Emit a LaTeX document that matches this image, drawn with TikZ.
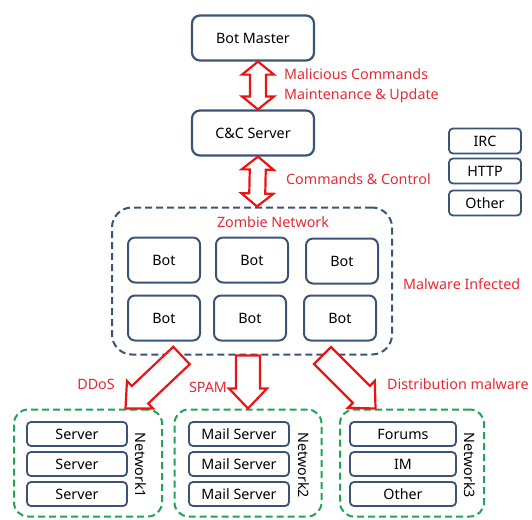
\documentclass[tikz,border=0pt]{standalone}
\usepackage{fontspec}
\setmainfont{Noto Sans}
\usepackage{tikz}
\usetikzlibrary{calc,positioning}
\definecolor{boxblue}{RGB}{58,84,120}
\definecolor{netgreen}{RGB}{30,165,85}
\definecolor{txtred}{RGB}{232,40,50}
\definecolor{arrred}{RGB}{235,20,20}
\newcommand{\fattwo}[2]{%
  \coordinate (ta) at ($(#1)!13pt!(#2)$);
  \coordinate (tb) at ($(#2)!13pt!(#1)$);
  \draw[fat] (#1) -- ($(ta)!16pt!90:(#2)$) -- ($(ta)!8pt!90:(#2)$) -- ($(tb)!8pt!90:(#2)$)
    -- ($(tb)!16pt!90:(#2)$) -- (#2) -- ($(tb)!16pt!-90:(#2)$) -- ($(tb)!8pt!-90:(#2)$)
    -- ($(ta)!8pt!-90:(#2)$) -- ($(ta)!16pt!-90:(#2)$) -- cycle;}
\newcommand{\fatone}[2]{%
  \coordinate (tb) at ($(#2)!20pt!(#1)$);
  \draw[fat] ($(#1)!12pt!90:(#2)$) -- ($(tb)!12pt!90:(#2)$) -- ($(tb)!19pt!90:(#2)$) -- (#2)
    -- ($(tb)!19pt!-90:(#2)$) -- ($(tb)!12pt!-90:(#2)$) -- ($(#1)!12pt!-90:(#2)$) -- cycle;}

\begin{document}
\begin{tikzpicture}[x=1pt,y=-1pt,
    every node/.style={font=\fontsize{14.3}{16}\selectfont},
    topbox/.style={draw=boxblue,line width=2.2pt,rounded corners=8pt,minimum width=122pt,minimum height=45pt,inner sep=0pt},
    botbox/.style={draw=boxblue,line width=2pt,rounded corners=7pt,minimum width=72pt,minimum height=45pt,inner sep=0pt},
    smallbox/.style={draw=boxblue,line width=1.8pt,rounded corners=4pt,minimum width=72pt,minimum height=25pt,inner sep=0pt},
    netitem/.style={draw=boxblue,line width=1.8pt,rounded corners=4pt,minimum width=100pt,minimum height=24pt,inner sep=0pt},
    netbox/.style={draw=netgreen,line width=2pt,dash pattern=on 7pt off 4pt,rounded corners=14pt,minimum width=148pt,minimum height=107pt},
    lbl/.style={text=txtred,inner sep=0pt},
    fat/.style={draw=arrred,line width=2.2pt,fill=white,line join=miter}]

    \useasboundingbox (0,0) rectangle (532,519);

    \node[topbox] (master) at (253,38) {Bot Master};
    \node[topbox] (cc) at (253,133) {C\&C Server};

    \node[smallbox] (irc) at (485,141) {IRC};
    \node[smallbox] (http) at (485,171) {HTTP};
    \node[smallbox] (other) at (485,203) {Other};

    \node[draw=boxblue,line width=2pt,dash pattern=on 7pt off 4pt,rounded corners=20pt,
        minimum width=280pt,minimum height=147pt] (zombie) at (252,281) {};
    \node[lbl] (zlabel) at (273,222) {Zombie Network};
    \node[botbox] (bot1) at (164,260) {Bot};
    \node[botbox] (bot2) at (252,260) {Bot};
    \node[botbox] (bot3) at (342,261) {Bot};
    \node[botbox] (bot4) at (164,318) {Bot};
    \node[botbox] (bot5) at (250,318) {Bot};
    \node[botbox] (bot6) at (340,318) {Bot};

    \node[netbox] (net1) at (88,463) {};
    \node[netbox,minimum width=147pt] (net2) at (248,463) {};
    \node[netbox,minimum width=144pt] (net3) at (412,463) {};

    \node[netitem] (srv1) at (77,434) {Server};
    \node[netitem] (srv2) at (77,464) {Server};
    \node[netitem] (srv3) at (77,494) {Server};
    \node[netitem] (mail1) at (239,434) {Mail Server};
    \node[netitem] (mail2) at (239,464) {Mail Server};
    \node[netitem] (mail3) at (239,494) {Mail Server};
    \node[netitem,minimum width=106pt] (forum) at (403,434) {Forums};
    \node[netitem,minimum width=106pt] (im) at (403,464) {IM};
    \node[netitem,minimum width=106pt] (other3) at (403,494) {Other};

    \node[rotate=-90,inner sep=0pt] (n1label) at (141,465) {Network1};
    \node[rotate=-90,inner sep=0pt] (n2label) at (304,465) {Network2};
    \node[rotate=-90,inner sep=0pt] (n3label) at (470,465) {Network3};

    % red arrows
    \fattwo{[xshift=5pt]master.south}{[xshift=5pt]cc.north}
    \fattwo{[xshift=5pt]cc.south}{[xshift=5pt]zombie.north}
    \fatone{$(zombie.south)!0.5!(zombie.south west)$}{$(net1.north)!0.5!(net1.north east)$}
    \fatone{zombie.south -| net2.north}{net2.north}
    \fatone{$(zombie.south)!0.5!(zombie.south east)$}{$(net3.north)!0.5!(net3.north west)$}

    \node[lbl,anchor=west] (mcmd) at (284,74) {Malicious Commands};
    \node[lbl,anchor=west] (maint) at (284,96) {Maintenance \& Update};
    \node[lbl,anchor=west] (cmdctl) at (286,179) {Commands \& Control};
    \node[lbl,anchor=west] (infect) at (403,284) {Malware Infected};
    \node[lbl] (ddos) at (96,384) {DDoS};
    \node[lbl] (spam) at (208,387) {SPAM};
    \node[lbl,anchor=west] (distr) at (387,384) {Distribution malware};
\end{tikzpicture}
\end{document}
